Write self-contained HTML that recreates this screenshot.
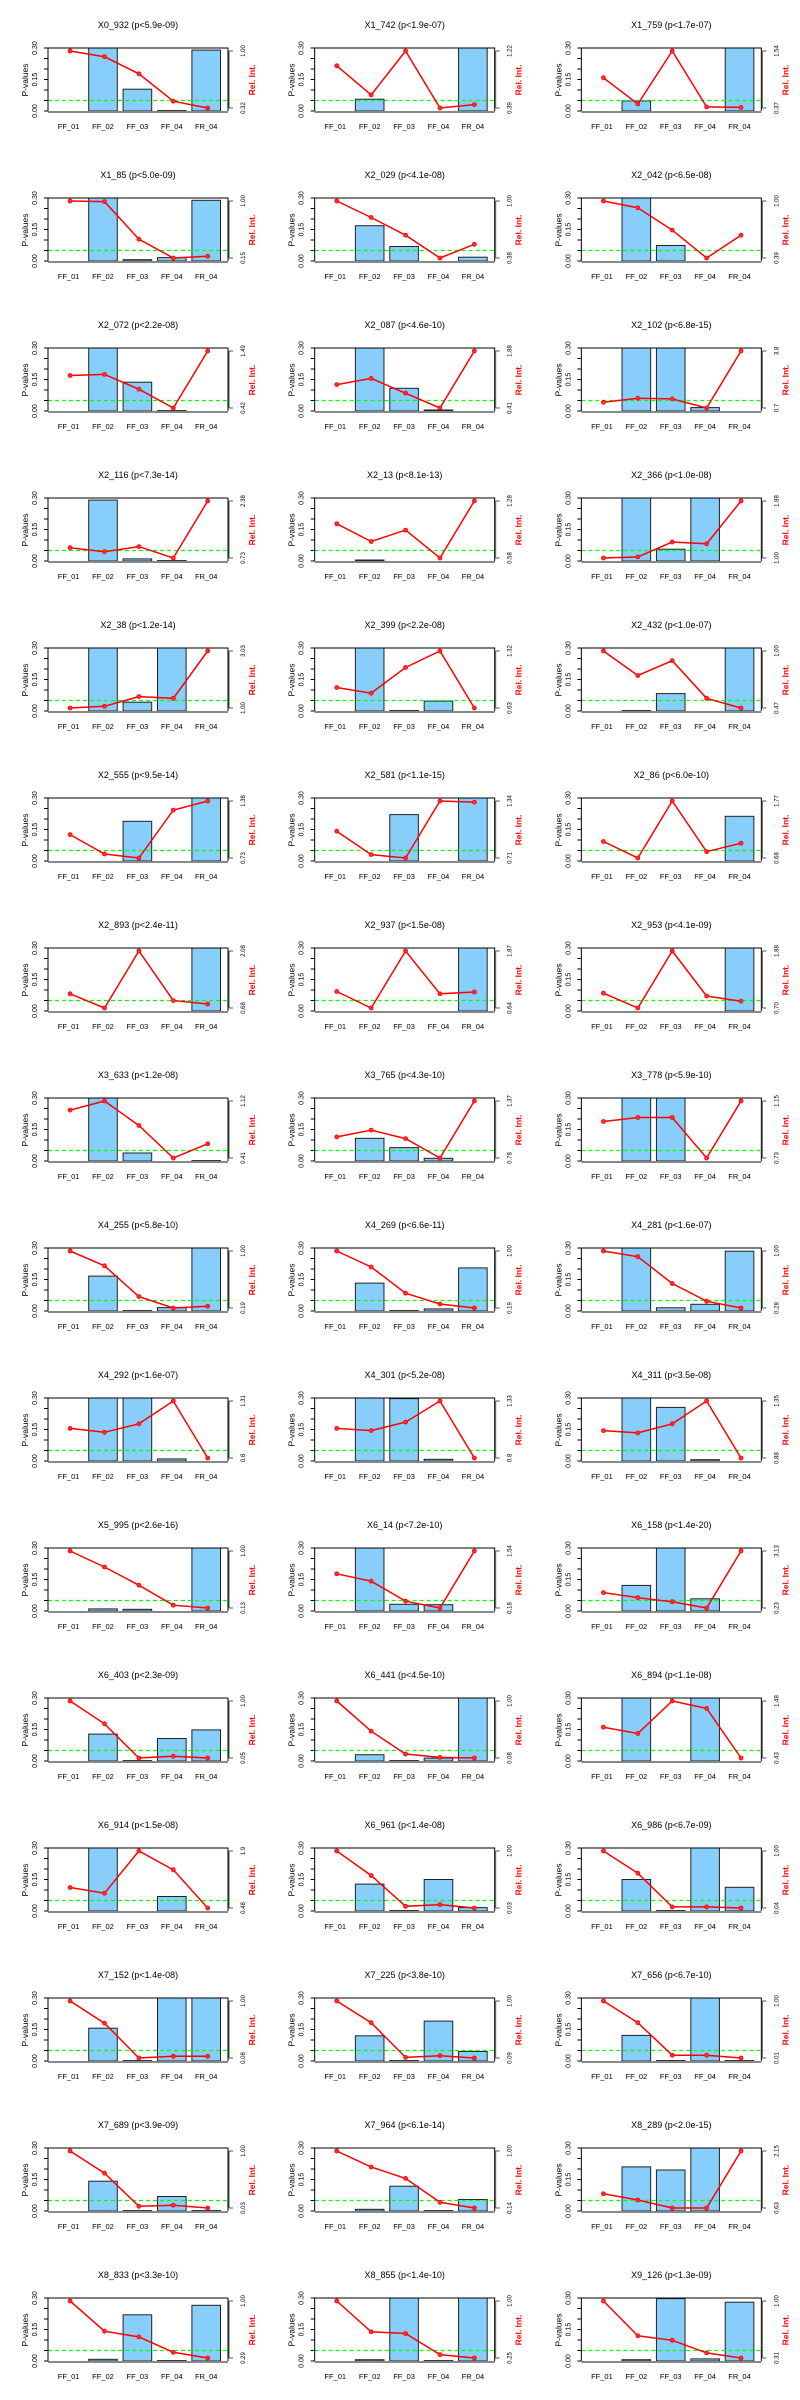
<!DOCTYPE html>
<html><head><meta charset="utf-8"><title>P-values panels</title>
<style>
html,body{margin:0;padding:0;background:#fff;}
svg{display:block;font-family:"Liberation Sans",sans-serif;}
</style></head>
<body>
<svg id="chart" width="800" height="2400" viewBox="0 0 800 2400" xmlns="http://www.w3.org/2000/svg"></svg>
<script>
const categories = ["FF_01","FF_02","FF_03","FF_04","FR_04"];
const titles = ["X0_932 (p<5.9e-09)","X1_742 (p<1.9e-07)","X1_759 (p<1.7e-07)","X1_85 (p<5.0e-09)","X2_029 (p<4.1e-08)","X2_042 (p<6.5e-08)",
"X2_072 (p<2.2e-08)","X2_087 (p<4.6e-10)","X2_102 (p<6.8e-15)","X2_116 (p<7.3e-14)","X2_13 (p<8.1e-13)","X2_366 (p<1.0e-08)",
"X2_38 (p<1.2e-14)","X2_399 (p<2.2e-08)","X2_432 (p<1.0e-07)","X2_555 (p<9.5e-14)","X2_581 (p<1.1e-15)","X2_86 (p<6.0e-10)",
"X2_893 (p<2.4e-11)","X2_937 (p<1.5e-08)","X2_953 (p<4.1e-09)","X3_633 (p<1.2e-08)","X3_765 (p<4.3e-10)","X3_778 (p<5.9e-10)",
"X4_255 (p<5.8e-10)","X4_269 (p<6.6e-11)","X4_281 (p<1.6e-07)","X4_292 (p<1.6e-07)","X4_301 (p<5.2e-08)","X4_311 (p<3.5e-08)",
"X5_995 (p<2.6e-16)","X6_14 (p<7.2e-10)","X6_158 (p<1.4e-20)","X6_403 (p<2.3e-09)","X6_441 (p<4.5e-10)","X6_894 (p<1.1e-08)",
"X6_914 (p<1.5e-08)","X6_961 (p<1.4e-08)","X6_986 (p<6.7e-09)","X7_152 (p<1.4e-08)","X7_225 (p<3.8e-10)","X7_656 (p<6.7e-10)",
"X7_689 (p<3.9e-09)","X7_964 (p<6.1e-14)","X8_289 (p<2.0e-15)","X8_833 (p<3.3e-10)","X8_855 (p<1.4e-10)","X9_126 (p<1.3e-09)"];
const pValues = [
[0,0.5,0.104,0.002,0.29],[0,0.056,0,0,0.5],[0,0.048,0,0,0.5],[0,0.5,0.006,0.016,0.289],[0,0.168,0.069,0,0.018],[0,0.5,0.074,0,0],
[0,0.5,0.137,0.002,0],[0,0.5,0.108,0.005,0],[0,0.5,0.5,0.016,0],[0,0.29,0.01,0.002,0],[0,0.005,0,0,0],[0,0.5,0.056,0.5,0],
[0,0.5,0.042,0.5,0],[0,0.5,0.002,0.047,0],[0,0.002,0.083,0,0.5],[0,0,0.189,0,0.5],[0,0,0.221,0,0.5],[0,0,0,0,0.213],
[0,0,0,0,0.5],[0,0,0,0,0.5],[0,0,0,0,0.5],[0,0.5,0.038,0,0.002],[0,0.108,0.064,0.013,0],[0,0.5,0.5,0,0],
[0,0.166,0.002,0.016,0.5],[0,0.133,0.002,0.01,0.205],[0,0.5,0.015,0.032,0.285],[0,0.5,0.5,0.01,0],[0,0.5,0.297,0.008,0],[0,0.5,0.255,0.006,0],
[0,0.01,0.008,0,0.5],[0,0.5,0.032,0.03,0],[0,0.122,0.5,0.058,0],[0,0.128,0.002,0.107,0.148],[0,0.03,0.002,0.014,0.5],[0,0.5,0,0.5,0],
[0,0.5,0,0.069,0],[0,0.128,0.002,0.15,0.016],[0,0.15,0.002,0.5,0.113],[0,0.156,0.002,0.5,0.5],[0,0.12,0.002,0.19,0.045],[0,0.122,0.002,0.5,0.002],
[0,0.142,0.002,0.069,0.002],[0,0.008,0.118,0.002,0.055],[0,0.21,0.195,0.5,0],[0,0.008,0.22,0.002,0.265],[0,0.006,0.5,0.002,0.5],[0,0.006,0.297,0.01,0.28]];
const relInt = [
[1,0.9,0.6,0.12,0],[0.74,0.23,1,0,0.06],[0.53,0.07,1,0.02,0.01],[1,0.99,0.33,0,0.03],[1,0.71,0.4,0,0.24],[1,0.88,0.49,0,0.4],
[0.57,0.59,0.33,0,1],[0.41,0.52,0.26,0,1],[0.1,0.17,0.16,0,1],[0.18,0.11,0.2,0,1],[0.6,0.29,0.49,0,1],[0,0.02,0.28,0.25,1],
[0,0.03,0.2,0.17,1],[0.36,0.26,0.71,1,0],[1,0.57,0.83,0.17,0],[0.41,0.07,0,0.84,1],[0.47,0.06,0,1,0.98],[0.29,0,1,0.11,0.26],
[0.25,0,1,0.13,0.07],[0.29,0,1,0.25,0.28],[0.26,0,1,0.21,0.12],[0.84,1,0.57,0,0.25],[0.37,0.49,0.34,0,1],[0.64,0.71,0.71,0,1],
[1,0.74,0.2,0,0.03],[1,0.72,0.26,0.07,0],[1,0.9,0.43,0.12,0],[0.52,0.45,0.6,1,0],[0.52,0.48,0.63,1,0],[0.48,0.44,0.6,1,0],
[1,0.72,0.4,0.05,0],[0.6,0.47,0.12,0,1],[0.27,0.18,0.11,0,1],[1,0.6,0,0.03,0],[1,0.47,0.07,0.01,0],[0.54,0.43,1,0.87,0],
[0.36,0.26,1,0.67,0],[1,0.57,0.03,0.06,0],[1,0.61,0.02,0.02,0],[1,0.61,0,0.03,0.03],[1,0.62,0.01,0.04,0],[1,0.62,0.05,0.05,0],
[1,0.61,0.03,0.05,0],[1,0.72,0.52,0.1,0],[0.25,0.14,0,0,1],[1,0.47,0.37,0.1,0],[1,0.46,0.43,0.06,0],[1,0.39,0.31,0.09,0]];
const relMaxLabels = ["1.00","1.22","1.54","1.00","1.00","1.00","1.49","1.88","3.8","2.38","1.28","1.88","3.03","1.32","1.00","1.38","1.34","1.77",
"2.08","1.87","1.88","1.12","1.37","1.15","1.00","1.00","1.00","1.31","1.33","1.35","1.00","1.54","3.13","1.00","1.00","1.48",
"1.9","1.00","1.00","1.00","1.00","1.00","1.00","1.00","2.15","1.00","1.00","1.00"];
const relMinLabels = ["0.32","0.39","0.37","0.15","0.38","0.39","0.42","0.41","0.7","0.73","0.58","1.00","1.00","0.63","0.47","0.73","0.71","0.68",
"0.68","0.64","0.70","0.41","0.78","0.73","0.19","0.19","0.28","0.8","0.8","0.88","0.13","0.18","0.23","0.05","0.08","0.43",
"0.48","0.03","0.04","0.08","0.09","0.01","0.03","0.14","0.63","0.29","0.25","0.31"];
const yTicks = [0,0.05,0.10,0.15,0.20,0.25,0.30];
const yTickLabels = ["0.00","0.15","0.30"];
const threshold = 0.05;

const NS = "http://www.w3.org/2000/svg";
const svg = document.getElementById('chart');
function mk(tag, attrs, parent){ const e=document.createElementNS(NS,tag); for(const k in attrs) e.setAttribute(k,attrs[k]); (parent||svg).appendChild(e); return e; }

const PW = 800/3, PH = 150;
const BX0 = 48, BX1 = 228, BY0 = 48, BY1 = 111;
function yP(v){ return BY1 - Math.min(v,0.3)/0.3*(BY1-BY0); }
function yR(v){ return 108 - v*(108-51); }
function xC(i){ return 68.6 + i*34.4; }
const BW = 28.6;

titles.forEach((t,p)=>{
  const col = p%3, row = Math.floor(p/3);
  const g = mk('g',{transform:`translate(${(col*PW).toFixed(2)},${row*PH})`});
  
  
  const cp = mk('clipPath',{id:'cp'+p},g);
  mk('rect',{x:BX0,y:BY0,width:BX1-BX0,height:BY1-BY0+2},cp);
  const tt = mk('text',{x:138,y:28,'font-size':9,'text-anchor':'middle',fill:'#000'},g);
  tt.textContent = t;
  
  
  const bg = mk('g',{'clip-path':`url(#cp${p})`},g);
  pValues[p].forEach((v,i)=>{
    const y = yP(v);
    const r = mk('rect',{x:(xC(i)-BW/2).toFixed(1),y:y.toFixed(1),width:BW,height:Math.max(BY1-y,0.01).toFixed(1),fill:'#87CEFA',stroke:'#222','stroke-width':1},bg);
    
    
  });
  mk('line',{x1:BX0,x2:BX1,y1:BY1+1,y2:BY1+1,stroke:'#888','stroke-width':2},g);
  const th = mk('line',{x1:BX0,x2:BX1,y1:yP(threshold),y2:yP(threshold),stroke:'#00ff00','stroke-width':1.3,'stroke-dasharray':'4,3'},g);
  
  
  mk('polyline',{points:`${BX0},${BY1} ${BX0},${BY0} ${BX1},${BY0} ${BX1},${BY1}`,fill:'none',stroke:'#000','stroke-width':1},g);
  yTicks.forEach(v=>{ mk('line',{x1:BX0-4,x2:BX0,y1:yP(v),y2:yP(v),stroke:'#000','stroke-width':1},g); });
  [0,0.15,0.30].forEach((v,k)=>{
    const y=yP(v);
    const tl = mk('text',{x:0,y:0,'font-size':7,'text-anchor':'middle',transform:`translate(37,${y}) rotate(-90)`},g);
    tl.textContent = yTickLabels[k];
    
    
  });
  const yl = mk('text',{x:0,y:0,'font-size':8.5,'text-anchor':'middle',transform:'translate(28,80) rotate(-90)'},g);
  yl.textContent='P-values';
  
  
  mk('line',{x1:229,x2:229,y1:51,y2:108,stroke:'#555','stroke-width':1},g);
  mk('line',{x1:229,x2:233,y1:51,y2:51,stroke:'#555','stroke-width':1},g);
  mk('line',{x1:229,x2:233,y1:108,y2:108,stroke:'#555','stroke-width':1},g);
  const rmx = mk('text',{x:0,y:0,'font-size':6,'text-anchor':'middle',transform:'translate(245,51) rotate(-90)'},g);
  rmx.textContent = relMaxLabels[p];
  
  
  const rmn = mk('text',{x:0,y:0,'font-size':6,'text-anchor':'middle',transform:'translate(245,108) rotate(-90)'},g);
  rmn.textContent = relMinLabels[p];
  
  
  const rl = mk('text',{x:0,y:0,'font-size':8.5,'text-anchor':'middle',fill:'#ff0000','font-weight':'bold',transform:'translate(255,80) rotate(-90)'},g);
  rl.textContent='Rel. Int.';
  
  
  categories.forEach((c,i)=>{
    const xl = mk('text',{x:xC(i),y:129,'font-size':7.5,'text-anchor':'middle'},g);
    xl.textContent=c;
    
    
  });
  const pts = relInt[p].map((v,i)=>`${xC(i)+1.5},${yR(v).toFixed(1)}`).join(' ');
  const pl = mk('polyline',{points:pts,fill:'none',stroke:'#ff0000','stroke-width':1.5},g);
  
  
  relInt[p].forEach((v,i)=>{
    const c = mk('circle',{cx:xC(i)+1.5,cy:yR(v).toFixed(1),r:2,fill:'#ff3030',stroke:'#ff0000','stroke-width':0.8},g);
    
    
  });
});
</script>
</body></html>
